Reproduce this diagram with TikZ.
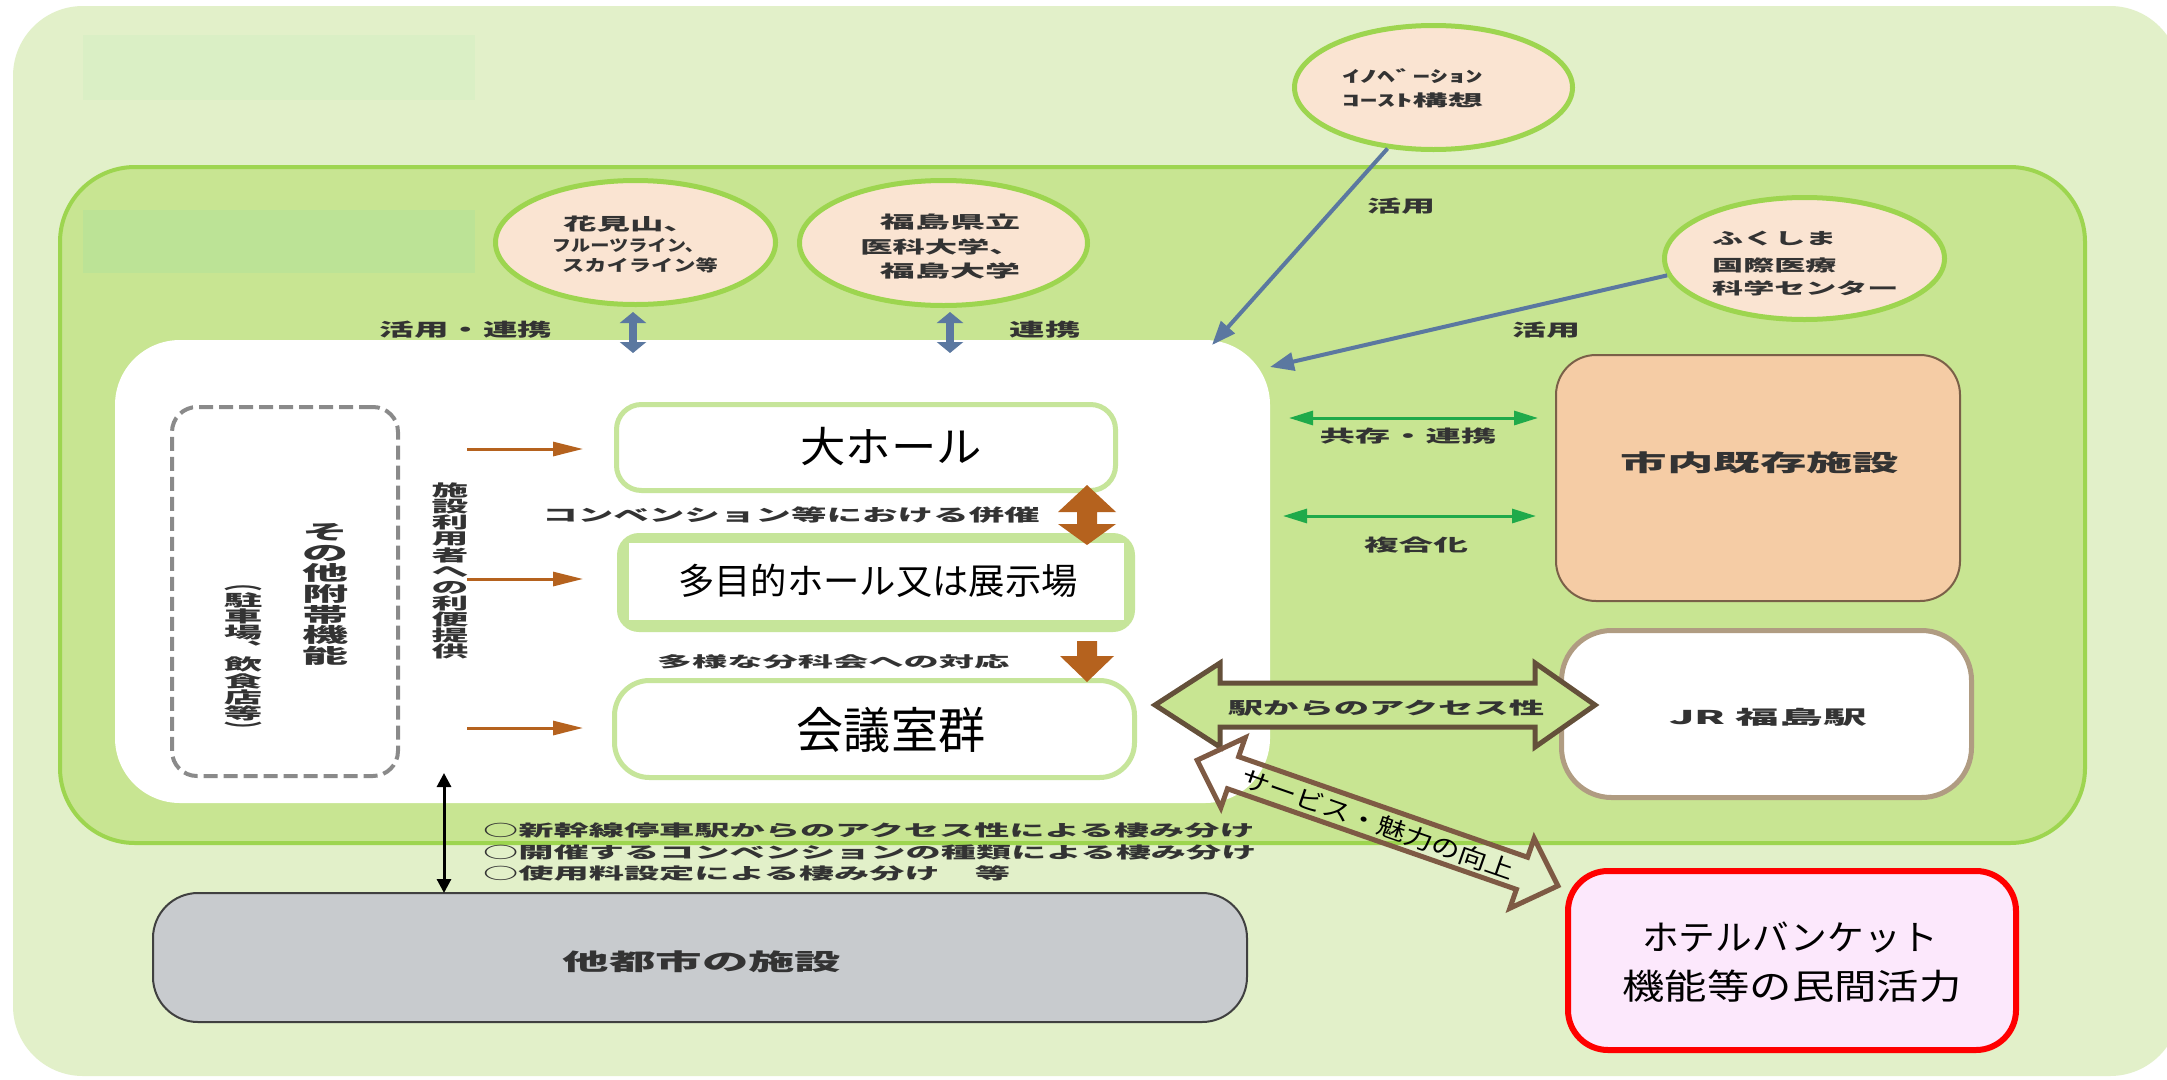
\documentclass[tikz,border=0pt]{standalone}
\usepackage{fontspec}
\usepackage{graphicx}
\setmainfont{Noto Sans CJK JP}
\usetikzlibrary{arrows.meta,shapes.geometric}
\definecolor{bgOuter}{HTML}{E2F0C9}
\definecolor{faintA}{HTML}{DAEFC5}
\definecolor{faintB}{HTML}{BCE396}
\definecolor{innerFill}{HTML}{C8E592}
\definecolor{innerLine}{HTML}{9DD54F}
\definecolor{ellFill}{HTML}{FAE4D2}
\definecolor{boxLine}{HTML}{C6E59A}
\definecolor{orangeA}{HTML}{B5621E}
\definecolor{blueA}{HTML}{5B78A0}
\definecolor{greenA}{HTML}{1FAA4A}
\definecolor{peach}{HTML}{F5CCA5}
\definecolor{peachLine}{HTML}{7A6048}
\definecolor{jrLine}{HTML}{B09C82}
\definecolor{brownA}{HTML}{64503A}
\definecolor{brownB}{HTML}{7E5A44}
\definecolor{pinkFill}{HTML}{FCE8FC}
\definecolor{redA}{HTML}{FF0000}
\definecolor{grayFill}{HTML}{C8CBCE}
\definecolor{grayLine}{HTML}{404040}
\definecolor{dashGray}{HTML}{8A8A8A}
\definecolor{txtDark}{HTML}{333333}
\newcommand\TT[3]{\scalebox{#1}[1]{\fontsize{#2}{#2}\selectfont #3}}
\newcommand\VT[4]{\scalebox{#1}[1]{\parbox{#2pt}{\centering\fontsize{#2}{#3}\selectfont #4}}}
\begin{document}
\begin{tikzpicture}[x=1pt,y=-1pt,
  box/.style={rectangle, inner sep=0pt, outer sep=0pt},
  ell/.style={ellipse, draw=innerLine, line width=5pt, fill=ellFill, inner sep=0pt},
  lbl/.style={inner sep=0pt, text=txtDark, font=\bfseries},
  big/.style={inner sep=0pt, text=black},
  orarr/.style={draw=orangeA, line width=3pt, -{Triangle[length=30pt,width=14pt]}},
  bluearr/.style={draw=blueA, line width=4pt, -{Triangle[length=24pt,width=18pt]}},
  bluedbl/.style={draw=blueA, line width=8pt, {Triangle[length=11pt,width=26pt]}-{Triangle[length=11pt,width=26pt]}},
  greendbl/.style={draw=greenA, line width=3pt, {Triangle[length=24pt,width=14pt]}-{Triangle[length=24pt,width=14pt]}},
  blackdbl/.style={draw=black, line width=3pt, {Triangle[length=14pt,width=14pt]}-{Triangle[length=14pt,width=14pt]}},
]
\useasboundingbox (0,0) rectangle (2167,1079);
\fill[white] (0,0) rectangle (2167,1079);

% backgrounds
\node[box, fill=bgOuter, rounded corners=70pt, minimum width=2167pt, minimum height=1070pt] (outer) at (1096.5,541) {};
\node[box, fill=faintA, minimum width=392pt, minimum height=65pt] (faint1) at (279,67.5) {};
\node[box, fill=innerFill, draw=innerLine, line width=4pt, rounded corners=75pt, minimum width=2025pt, minimum height=676pt] (inner) at (1072.5,505) {};
\node[box, fill=faintB, minimum width=392pt, minimum height=63pt] (faint2) at (279,241.5) {};

% ellipses
\node[ell, minimum width=280pt, minimum height=124pt] (hana) at (635.5,242.5) {};
\node[ell, minimum width=288pt, minimum height=125pt] (fukuU) at (943.5,243) {};
\node[ell, minimum width=278pt, minimum height=124pt] (inno) at (1433.5,87.5) {};
\node[ell, minimum width=280pt, minimum height=122pt] (fukuC) at (1804.5,258.5) {};

% white region
\node[box, fill=white, rounded corners=65pt, minimum width=1155pt, minimum height=463pt] (white) at (692.5,571.5) {};

% dashed box
\node[box, draw=dashGray, line width=4pt, dash pattern=on 14pt off 6pt, rounded corners=25pt, minimum width=226pt, minimum height=369pt] (dash) at (285,591.5) {};

% hall boxes
\node[box, draw=boxLine, line width=5pt, fill=white, rounded corners=25pt, minimum width=499pt, minimum height=86pt] (dai) at (866,447.5) {};
\node[box, fill=boxLine, rounded corners=22pt, minimum width=518pt, minimum height=99pt] (multiOut) at (876,582.5) {};
\node[box, fill=white, minimum width=495pt, minimum height=77pt] (multi) at (876.5,581.5) {};
\node[box, draw=boxLine, line width=5pt, fill=white, rounded corners=35pt, minimum width=520pt, minimum height=97pt] (kaigi) at (874.5,729) {};

% right boxes
\node[box, fill=peach, draw=peachLine, line width=2pt, rounded corners=40pt, minimum width=404pt, minimum height=246pt] (shinai) at (1758,478) {};
\node[box, fill=white, draw=jrLine, line width=5pt, rounded corners=50pt, minimum width=410pt, minimum height=167pt] (jr) at (1766.5,714) {};
\node[box, fill=pinkFill, draw=redA, line width=6pt, rounded corners=40pt, minimum width=448pt, minimum height=179pt] (hotel) at (1792,960.5) {};
\node[box, fill=grayFill, draw=grayLine, line width=2pt, rounded corners=45pt, minimum width=1094pt, minimum height=129pt] (tatoshi) at (700,957.5) {};

% coordinates for connector ends
\coordinate (hanaA) at (633,312); \coordinate (hanaB) at (633,353);
\coordinate (fukuA) at (950,312); \coordinate (fukuB) at (950,353);
\coordinate (wTR1) at (1212,345); \coordinate (wTR2) at (1270,367);
\coordinate (o1s) at (467,449); \coordinate (o1e) at (583,449);
\coordinate (o2s) at (467,579); \coordinate (o2e) at (583,579);
\coordinate (o3s) at (467,728); \coordinate (o3e) at (583,728);
\coordinate (g1s) at (1289,418); \coordinate (g1e) at (1538,418);
\coordinate (g2s) at (1283,516); \coordinate (g2e) at (1536,516);
\coordinate (bk1) at (444,773);

% connectors
\draw[bluedbl] (hanaA) -- (hanaB);
\draw[bluedbl] (fukuA) -- (fukuB);
\draw[bluearr] (inno.-127) -- (wTR1);
\draw[bluearr] (fukuC.-173) -- (wTR2);
\draw[orarr] (o1s) -- (o1e);
\draw[orarr] (o2s) -- (o2e);
\draw[orarr] (o3s) -- (o3e);
\draw[greendbl] (g1s) -- (g1e);
\draw[greendbl] (g2s) -- (g2e);
\draw[blackdbl] (bk1) -- (bk1 |- tatoshi.north);

% orange block arrows
\fill[orangeA] (1087,485) -- (1116,512) -- (1097,512) -- (1097,524) -- (1116,524) -- (1087,545) -- (1058,524) -- (1077,524) -- (1077,512) -- (1058,512) -- cycle;
\fill[orangeA] (1077,641) -- (1097,641) -- (1097,656) -- (1114,656) -- (1087,682) -- (1060,656) -- (1077,656) -- cycle;

% access arrow
\draw[draw=brownA, line width=5pt, fill=innerFill, line join=miter]
  (1155,705) -- (1220,663) -- (1220,683) -- (1535,683) -- (1535,663) -- (1595,705)
  -- (1535,747) -- (1535,727) -- (1220,727) -- (1220,747) -- cycle;
\node[lbl] (tAccess) at (1386,708) {\TT{2.08}{17}{駅からのアクセス性}};

% service arrow
\begin{scope}[shift={(1377.5,823)}, rotate=-19.2]
\draw[draw=brownB, line width=5pt, line join=miter]
  (-191,0) -- (-153,-37) -- (-153,-17) -- (153,-17) -- (153,-37) -- (191,0)
  -- (153,37) -- (153,17) -- (-153,17) -- (-153,37) -- cycle;
\end{scope}
\node[big, rotate=-19.2] (tService) at (1378,824) {\TT{1.2}{24}{サービス・魅力の向上}};

% labels
\node[lbl] (tKR) at (466,330) {\TT{1.92}{18}{活用・連携}};
\node[lbl] (tRen) at (1045,330) {\TT{1.97}{18}{連携}};
\node[lbl] (tKat1) at (1401,206) {\TT{2.0}{17}{活用}};
\node[lbl] (tKat2) at (1546,330) {\TT{2.0}{17}{活用}};
\node[lbl] (tKyo) at (1408,436) {\TT{2.08}{17}{共存・連携}};
\node[lbl] (tFuku) at (1416,545) {\TT{2.04}{17}{複合化}};

\node[lbl] (tH1) at (630,224.5) {\TT{1.97}{17}{花見山、}};
\node[lbl] (tH2) at (628,245.5) {\TT{1.2}{16}{フルーツライン、}};
\node[lbl] (tH3) at (640,265) {\TT{1.39}{16}{スカイライン等}};

\node[lbl] (tU1) at (950,222.5) {\TT{2.06}{17}{福島県立}};
\node[lbl] (tU2) at (941,247.5) {\TT{1.9}{17}{医科大学、}};
\node[lbl] (tU3) at (950,270.5) {\TT{2.06}{17}{福島大学}};

\node[lbl, anchor=west] (tI1) at (1342,76.5) {\TT{2.2}{16}{ｲﾉﾍﾞｰｼｮﾝ}};
\node[lbl, anchor=west] (tI2) at (1342,100.5) {\TT{2.2}{16}{ｺｰｽﾄ構想}};

\node[lbl, anchor=west] (tC1) at (1712,238.5) {\TT{1.94}{16}{ふくしま}};
\node[lbl, anchor=west] (tC2) at (1712,265) {\TT{1.94}{16}{国際医療}};
\node[lbl, anchor=west] (tC3) at (1712,288.5) {\TT{1.94}{16}{科学センター}};

\node[lbl] (tConv) at (791,515.5) {\TT{2.09}{17}{コンベンション等における併催}};
\node[lbl] (tTayo) at (833,661.5) {\TT{2.35}{15}{多様な分科会への対応}};

\node[lbl] (tV1) at (450,571) {\VT{2.3}{16}{16.1}{施\\設\\利\\用\\者\\へ\\の\\利\\便\\提\\供}};
\node[lbl] (tV2) at (325,594.5) {\VT{2.3}{20}{20.7}{そ\\の\\他\\附\\帯\\機\\能}};
\node[lbl] (tV3) at (243,661) {\VT{2.4}{16}{16.2}{︵\\駐\\車\\場\\︑\\飲\\食\\店\\等\\︶}};

\node[lbl, anchor=west] (tB1) at (483,830) {\TT{2.2}{16}{○新幹線停車駅からのアクセス性による棲み分け}};
\node[lbl, anchor=west] (tB2) at (483,852.5) {\TT{2.2}{16}{○開催するコンベンションの種類による棲み分け}};
\node[lbl, anchor=west] (tB3) at (483,873.5) {\TT{2.2}{16}{○使用料設定による棲み分け　等}};

\node[lbl] (tShinai) at (1760,463) {\TT{2.02}{23}{市内既存施設}};
\node[lbl] (tJR) at (1768,717) {\TT{2.3}{19}{JR 福島駅}};
\node[lbl] (tTatoshi) at (702,962) {\TT{2.02}{23}{他都市の施設}};

\node[big] (tDai) at (891,447) {\TT{1.08}{42}{大ホール}};
\node[big] (tMulti) at (878,581) {\TT{1.01}{36}{多目的ホール又は展示場}};
\node[big] (tKaigi) at (891,730) {\TT{0.96}{49}{会議室群}};
\node[big] (tHotel1) at (1790,937) {\TT{1.05}{35}{ホテルバンケット}};
\node[big] (tHotel2) at (1792,986.5) {\TT{1.21}{35}{機能等の民間活力}};
\end{tikzpicture}
\end{document}
